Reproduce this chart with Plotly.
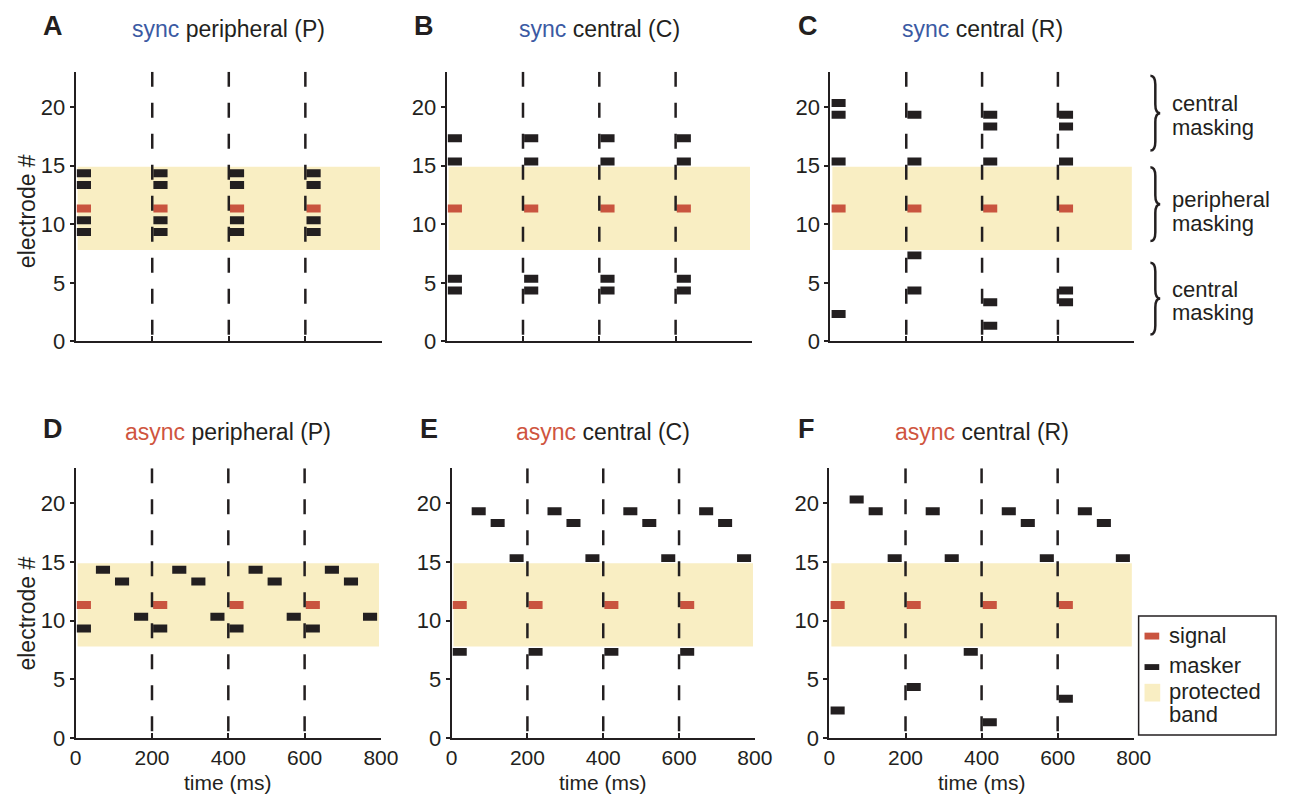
import plotly.graph_objects as go

# ---------------- data ----------------
TIME_TICKS = [0, 200, 400, 600, 800]
ELEC_TICKS = [0, 5, 10, 15, 20]
SIGNAL_ONSETS = [0, 200, 400, 600]          # ms
SIGNAL_ELECTRODE = [11, 11, 11, 11]
PERIOD_LINES = [200, 400, 600]              # dashed period boundaries (ms)
BAND = [7.8, 14.9]                          # protected band (electrode #)

# A: sync peripheral (P)
A_t = [0, 0, 0, 0, 200, 200, 200, 200, 400, 400, 400, 400, 600, 600, 600, 600]
A_e = [14, 13, 10, 9, 14, 13, 10, 9, 14, 13, 10, 9, 14, 13, 10, 9]
# B: sync central (C)
B_t = [0, 0, 0, 0, 200, 200, 200, 200, 400, 400, 400, 400, 600, 600, 600, 600]
B_e = [17, 15, 5, 4, 17, 15, 5, 4, 17, 15, 5, 4, 17, 15, 5, 4]
# C: sync central (R)
C_t = [0, 0, 0, 0, 200, 200, 200, 200, 400, 400, 400, 400, 400, 600, 600, 600, 600, 600]
C_e = [20, 19, 15, 2, 19, 15, 7, 4, 19, 18, 15, 3, 1, 19, 18, 15, 4, 3]
# D: async peripheral (P)
D_t = [0, 50, 100, 150, 200, 250, 300, 350, 400, 450, 500, 550, 600, 650, 700, 750]
D_e = [9, 14, 13, 10, 9, 14, 13, 10, 9, 14, 13, 10, 9, 14, 13, 10]
# E: async central (C)
E_t = [0, 50, 100, 150, 200, 250, 300, 350, 400, 450, 500, 550, 600, 650, 700, 750]
E_e = [7, 19, 18, 15, 7, 19, 18, 15, 7, 19, 18, 15, 7, 19, 18, 15]
# F: async central (R)
F_t = [0, 50, 100, 150, 200, 250, 300, 350, 400, 450, 500, 550, 600, 650, 700, 750]
F_e = [2, 20, 19, 15, 4, 19, 15, 7, 1, 19, 18, 15, 3, 19, 18, 15]

PANEL_LETTERS = ["A", "B", "C", "D", "E", "F"]
PANEL_MODE = ["sync", "sync", "sync", "async", "async", "async"]
PANEL_NAME = ["peripheral (P)", "central (C)", "central (R)",
              "peripheral (P)", "central (C)", "central (R)"]
MASKERS = [(A_t, A_e), (B_t, B_e), (C_t, C_e), (D_t, D_e), (E_t, E_e), (F_t, F_e)]

# ---------------- style ----------------
W, H = 1296, 807
FONT = "Liberation Sans, Arial, sans-serif"
INK = "#231f20"
RED = "#c9543f"
BLUE = "#3b5aa3"
ASYNC_RED = "#cf553f"
BAND_COL = "#f9eec3"
PULSE_DELAY = 3      # ms
PULSE_LEN = 37       # ms
BAR_H = 0.68
YR = [0, 23]
XR = [0, 800]
BAND_T = [5, 795]

# panel boxes in pixels (left, right, top, bottom)
BOXES = [(71, 383, 73, 347), (449, 760, 73, 347), (840, 1149, 73, 347),
         (71, 382, 476, 750), (454, 763, 476, 750), (839, 1149, 476, 750)]


def fx(x):
    return x / W


def fy(y):
    return 1 - y / H


fig = go.Figure()
shapes = []
annotations = []

for i, (box, (mt, me)) in enumerate(zip(BOXES, MASKERS)):
    k = "" if i == 0 else str(i + 1)
    xa, ya = "x" + k, "y" + k
    l, r, t, b = box
    bottom_row = i >= 3

    fig.update_layout(**{
        "xaxis" + k: dict(domain=[fx(l), fx(r)], range=XR, anchor=ya,
                          showline=True, linecolor=INK, linewidth=2,
                          ticks="inside", ticklen=5, tickwidth=1.5, tickcolor=INK,
                          tickvals=TIME_TICKS, showticklabels=bottom_row,
                          ticklabelstandoff=0,
                          tickfont=dict(size=21, color=INK, family=FONT),
                          showgrid=False, zeroline=False, fixedrange=True),
        "yaxis" + k: dict(domain=[fy(b), fy(t)], range=YR, anchor=xa,
                          showline=True, linecolor=INK, linewidth=2,
                          ticks="outside", ticklen=4, tickwidth=1.5, tickcolor=INK,
                          tickvals=ELEC_TICKS,
                          tickfont=dict(size=22, color=INK, family=FONT),
                          showgrid=False, zeroline=False, fixedrange=True),
    })

    # protected band
    shapes.append(dict(type="rect", xref=xa, yref=ya, x0=BAND_T[0], x1=BAND_T[1],
                       y0=BAND[0], y1=BAND[1], fillcolor=BAND_COL,
                       line=dict(width=0), layer="below"))

    # masker pulses
    fig.add_trace(go.Bar(orientation="h", y=me, x=[PULSE_LEN] * len(mt),
                         base=[v + PULSE_DELAY for v in mt], width=BAR_H, offset=0,
                         marker=dict(color=INK, line=dict(width=0)),
                         xaxis=xa, yaxis=ya, showlegend=False, hoverinfo="skip"))
    # signal pulses
    fig.add_trace(go.Bar(orientation="h", y=SIGNAL_ELECTRODE,
                         x=[PULSE_LEN] * len(SIGNAL_ONSETS),
                         base=[v + PULSE_DELAY for v in SIGNAL_ONSETS],
                         width=BAR_H, offset=0,
                         marker=dict(color=RED, line=dict(width=0)),
                         xaxis=xa, yaxis=ya, showlegend=False, hoverinfo="skip"))

    # dashed period lines
    lx, ly = [], []
    for p in PERIOD_LINES:
        lx += [p, p, None]
        ly += [YR[1], YR[0], None]
    fig.add_trace(go.Scatter(x=lx, y=ly, mode="lines",
                             line=dict(color=INK, width=2.5, dash="15px,16px"),
                             xaxis=xa, yaxis=ya, showlegend=False, hoverinfo="skip",
                             cliponaxis=False))

    # panel letter and title
    ty = 26 if not bottom_row else 436
    annotations.append(dict(text="<b>%s</b>" % PANEL_LETTERS[i], xref="paper", yref="paper",
                            x=fx(l - 23), y=fy(ty), xanchor="center", yanchor="middle",
                            showarrow=False, font=dict(size=27, color=INK, family=FONT)))
    mcol = BLUE if PANEL_MODE[i] == "sync" else ASYNC_RED
    annotations.append(dict(text="<span style='color:%s'>%s</span> %s" % (mcol, PANEL_MODE[i], PANEL_NAME[i]),
                            xref="paper", yref="paper", x=fx((l + r) / 2), y=fy(ty + 3),
                            xanchor="center", yanchor="middle", showarrow=False,
                            font=dict(size=23, color=INK, family=FONT)))
    if bottom_row:
        annotations.append(dict(text="time (ms)", xref="paper", yref="paper",
                                x=fx((l + r) / 2), y=fy(795), xanchor="center", yanchor="middle",
                                showarrow=False, font=dict(size=21, color=INK, family=FONT)))

# y axis titles
for yc in (215, 624):
    annotations.append(dict(text="electrode #", xref="paper", yref="paper", x=fx(21), y=fy(yc),
                            xanchor="center", yanchor="middle", textangle=-90, showarrow=False,
                            font=dict(size=23, color=INK, family=FONT)))


# braces on the right of panel C
def brace(x0, y0, y1, w=10):
    ym = (y0 + y1) / 2
    xm = x0 + w / 2
    rr = 9
    pts = [
        "M %f,%f" % (fx(x0), fy(y0)),
        "Q %f,%f %f,%f" % (fx(xm), fy(y0), fx(xm), fy(y0 + rr)),
        "L %f,%f" % (fx(xm), fy(ym - rr)),
        "Q %f,%f %f,%f" % (fx(xm), fy(ym), fx(x0 + w), fy(ym)),
        "Q %f,%f %f,%f" % (fx(xm), fy(ym), fx(xm), fy(ym + rr)),
        "L %f,%f" % (fx(xm), fy(y1 - rr)),
        "Q %f,%f %f,%f" % (fx(xm), fy(y1), fx(x0), fy(y1)),
    ]
    return dict(type="path", xref="paper", yref="paper", path=" ".join(pts),
                line=dict(color=INK, width=2.5))


BRACES = [(77, 153, ["central", "masking"], (105, 130)),
          (170, 245, ["peripheral", "masking"], (203, 227)),
          (267, 340, ["central", "masking"], (294, 318))]
for y0, y1, words, ys in BRACES:
    shapes.append(brace(1166, y0, y1))
    for wd, yy in zip(words, ys):
        annotations.append(dict(text=wd, xref="paper", yref="paper", x=fx(1186), y=fy(yy),
                                xanchor="left", yanchor="middle", showarrow=False,
                                font=dict(size=22, color=INK, family=FONT)))

# legend (manual)
shapes.append(dict(type="rect", xref="paper", yref="paper", x0=fx(1154), x1=fx(1294),
                   y0=fy(747), y1=fy(626), line=dict(color=INK, width=1.5), fillcolor="white"))
shapes.append(dict(type="rect", xref="paper", yref="paper", x0=fx(1160), x1=fx(1175),
                   y0=fy(650), y1=fy(643), line=dict(width=0), fillcolor=RED))
shapes.append(dict(type="rect", xref="paper", yref="paper", x0=fx(1160), x1=fx(1175),
                   y0=fy(681), y1=fy(675), line=dict(width=0), fillcolor=INK))
shapes.append(dict(type="rect", xref="paper", yref="paper", x0=fx(1160), x1=fx(1176),
                   y0=fy(713), y1=fy(695), line=dict(width=0), fillcolor=BAND_COL))
for wd, yy in [("signal", 646), ("masker", 676), ("protected", 703), ("band", 726)]:
    annotations.append(dict(text=wd, xref="paper", yref="paper", x=fx(1183), y=fy(yy),
                            xanchor="left", yanchor="middle", showarrow=False,
                            font=dict(size=22, color=INK, family=FONT)))

fig.update_layout(width=W, height=H, autosize=False,
                  margin=dict(l=0, r=0, t=0, b=0),
                  paper_bgcolor="white", plot_bgcolor="rgba(0,0,0,0)",
                  barmode="overlay", showlegend=False,
                  shapes=shapes, annotations=annotations,
                  font=dict(family=FONT, color=INK))

fig.write_html("out.html", config={"displayModeBar": False},
               post_script="document.body.style.margin='0';document.body.style.overflow='hidden';")
